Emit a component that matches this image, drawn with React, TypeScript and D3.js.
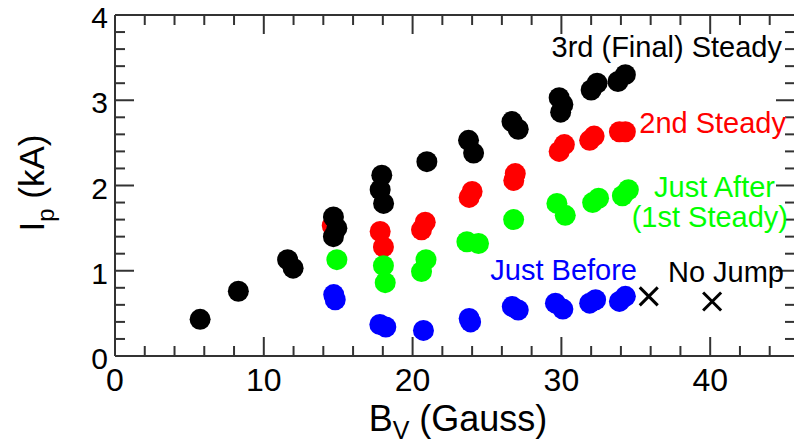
import React from "react";
import * as d3 from "d3";

const xTicks = [0, 10, 20, 30, 40];
const yTicks = [0, 1, 2, 3, 4];

const finalSteady: [number, number][] = [
  [5.72, 0.43], [8.29, 0.76], [11.6, 1.13], [11.97, 1.03],
  [14.68, 1.63], [14.91, 1.5], [14.68, 1.4],
  [17.93, 2.12], [17.82, 1.95], [18.05, 1.79],
  [20.96, 2.28], [23.76, 2.53], [24.1, 2.38],
  [26.68, 2.75], [27.1, 2.66],
  [29.85, 3.03], [29.95, 2.86], [30.1, 2.95],
  [32.0, 3.12], [32.4, 3.2], [33.8, 3.22], [34.3, 3.3],
];
const secondSteady: [number, number][] = [
  [14.6, 1.53], [17.82, 1.46], [18.04, 1.28],
  [20.6, 1.48], [20.85, 1.57], [23.8, 1.86], [24.0, 1.93],
  [26.8, 2.06], [26.9, 2.14], [29.85, 2.4], [30.2, 2.48],
  [31.9, 2.53], [32.2, 2.58], [33.9, 2.63], [34.3, 2.63],
];
const justAfter: [number, number][] = [
  [14.91, 1.13], [18.04, 1.06], [18.16, 0.86],
  [20.6, 0.99], [20.9, 1.13], [23.65, 1.34], [24.43, 1.32],
  [26.79, 1.6], [29.7, 1.79], [30.26, 1.65],
  [32.1, 1.8], [32.5, 1.85], [34.1, 1.88], [34.5, 1.95],
];
const justBefore: [number, number][] = [
  [14.7, 0.72], [14.8, 0.66], [17.8, 0.37], [18.2, 0.34],
  [20.73, 0.3], [23.8, 0.44], [23.9, 0.4],
  [26.7, 0.58], [27.1, 0.54], [29.6, 0.62], [30.1, 0.55],
  [31.9, 0.62], [32.3, 0.66], [33.9, 0.64], [34.3, 0.7],
];
const noJump: [number, number][] = [
  [35.87, 0.7], [40.13, 0.64],
];

const FONT = "'Liberation Sans', Arial, Helvetica, sans-serif";

export default function App() {
  const W = 794, H = 445;
  const left = 115, right = 795, top = 15, bottom = 356;
  const x = d3.scaleLinear().domain([0, 45.7]).range([left, right]);
  const y = d3.scaleLinear().domain([0, 4]).range([bottom, top]);

  const xMinor = d3.range(0, 45.7, 2).filter((v) => v % 10 !== 0);
  const yMinor = d3.range(0, 4.001, 0.2).map((v) => +v.toFixed(1)).filter((v) => Math.abs(v - Math.round(v)) > 1e-6);

  const axisColor = "#333";
  const r = 10.5;
  const c = 9;

  const series: { data: [number, number][]; color: string }[] = [
    { data: justBefore, color: "#0000ff" },
    { data: secondSteady, color: "#ff0000" },
    { data: justAfter, color: "#00ff00" },
    { data: finalSteady, color: "#000000" },
  ];

  return (
    <svg width={W} height={H} style={{ position: "absolute", left: 0, top: 0, background: "#fff" }} fontFamily={FONT}>
      <rect x={0} y={0} width={W} height={H} fill="#fff" />
      {series.map((s, i) => (
        <g key={i} fill={s.color}>
          {s.data.map((d, j) => (
            <circle key={j} cx={x(d[0])} cy={y(d[1])} r={r} />
          ))}
        </g>
      ))}
      {noJump.map((d, j) => (
        <g key={j} stroke="#000" strokeWidth={3}>
          <line x1={x(d[0]) - c} y1={y(d[1]) - c} x2={x(d[0]) + c} y2={y(d[1]) + c} />
          <line x1={x(d[0]) - c} y1={y(d[1]) + c} x2={x(d[0]) + c} y2={y(d[1]) - c} />
        </g>
      ))}
      <g stroke={axisColor} strokeWidth={2} fill="none">
        <line x1={left} y1={bottom} x2={right} y2={bottom} />
        <line x1={left} y1={top} x2={right} y2={top} />
        <line x1={left} y1={top} x2={left} y2={bottom} />
        <line x1={right} y1={top} x2={right} y2={bottom} />
        {xTicks.map((t) => (
          <g key={"xm" + t}>
            <line x1={x(t)} x2={x(t)} y1={bottom} y2={bottom - 19} />
            <line x1={x(t)} x2={x(t)} y1={top} y2={top + 19} />
          </g>
        ))}
        {xMinor.map((t) => (
          <g key={"xn" + t}>
            <line x1={x(t)} x2={x(t)} y1={bottom} y2={bottom - 10} />
            <line x1={x(t)} x2={x(t)} y1={top} y2={top + 10} />
          </g>
        ))}
        {yTicks.map((t) => (
          <g key={"ym" + t}>
            <line x1={left} x2={left + 19} y1={y(t)} y2={y(t)} />
            <line x1={right} x2={right - 19} y1={y(t)} y2={y(t)} />
          </g>
        ))}
        {yMinor.map((t) => (
          <g key={"yn" + t}>
            <line x1={left} x2={left + 10} y1={y(t)} y2={y(t)} />
            <line x1={right} x2={right - 10} y1={y(t)} y2={y(t)} />
          </g>
        ))}
      </g>
      <g fill="#000">
        {xTicks.map((t) => (
          <text key={"xl" + t} x={x(t)} y={391} textAnchor="middle" fontSize={32}>{t}</text>
        ))}
        {yTicks.map((t) => (
          <text key={"yl" + t} x={108} y={y(t) + 13} textAnchor="end" fontSize={30}>{t}</text>
        ))}
      </g>
      <text x={458} y={431} textAnchor="middle" fontSize={36} fill="#000">
        B<tspan fontSize={25} dy={8}>V</tspan><tspan dy={-8}> (Gauss)</tspan>
      </text>
      <text transform="translate(44,183) rotate(-90)" textAnchor="middle" fontSize={35} fill="#000">
        I<tspan fontSize={24} dy={10}>p</tspan><tspan dy={-10}> (kA)</tspan>
      </text>
      <g fontSize={29}>
        <text x={782} y={57} textAnchor="end" fill="#000">3rd (Final) Steady</text>
        <text x={786} y={133} textAnchor="end" fill="#ff0000">2nd Steady</text>
        <text x={775} y={197} textAnchor="end" fill="#00ff00">Just After</text>
        <text x={788} y={227} textAnchor="end" fill="#00ff00">(1st Steady)</text>
        <text x={637} y={280} textAnchor="end" fill="#0000ff">Just Before</text>
        <text x={784} y={282} textAnchor="end" fill="#000">No Jump</text>
      </g>
    </svg>
  );
}
